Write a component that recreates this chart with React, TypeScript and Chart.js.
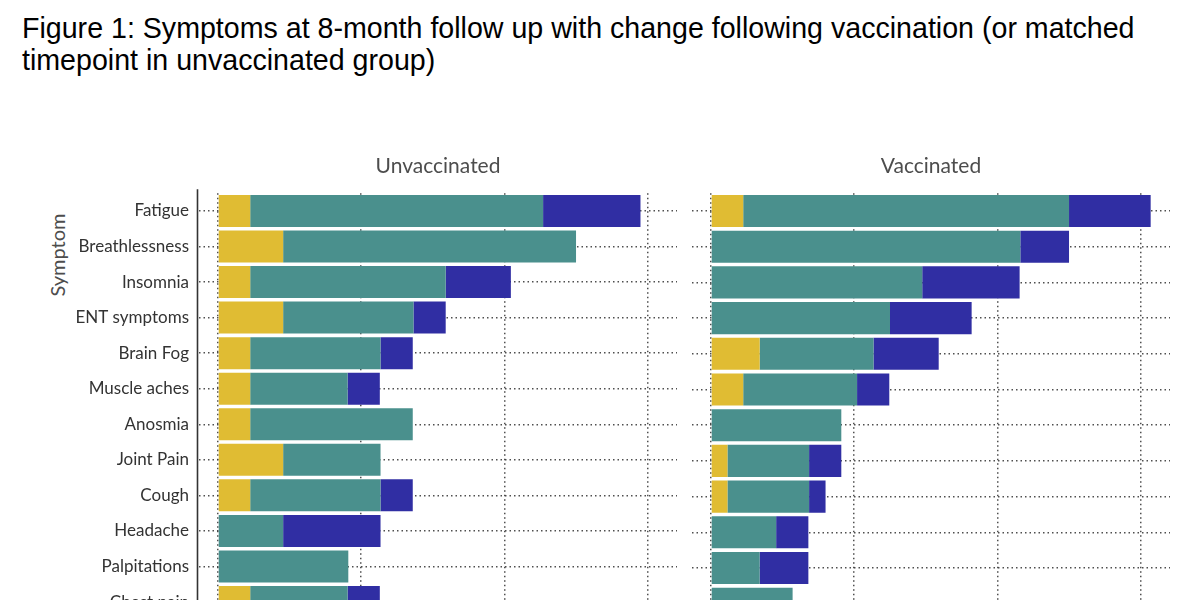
import React, { useEffect, useRef } from "react";
import { Chart, registerables } from "chart.js";

Chart.register(...registerables);

const titleLines = [
  "Figure 1: Symptoms at 8-month follow up with change following vaccination (or matched",
  "timepoint in unvaccinated group)",
];
const panelTitles = ["Unvaccinated", "Vaccinated"];
const yAxisTitle = "Symptom";

const symptoms = [
  "Fatigue",
  "Breathlessness",
  "Insomnia",
  "ENT symptoms",
  "Brain Fog",
  "Muscle aches",
  "Anosmia",
  "Joint Pain",
  "Cough",
  "Headache",
  "Palpitations",
  "Chest pain",
];

const seriesLabels = ["Worse", "Unchanged", "Improved"];
const seriesColors = ["#E0BC33", "#4A908D", "#302EA3"];

// percentages of patients (unvaccinated)
const unvacWorse = [4.5, 9.1, 4.5, 9.1, 4.5, 4.5, 4.5, 9.1, 4.5, 0, 0, 4.5];
const unvacSame = [40.9, 40.9, 27.3, 18.2, 18.2, 13.6, 22.7, 13.6, 18.2, 9.1, 18.2, 13.6];
const unvacBetter = [13.6, 0, 9.1, 4.5, 4.5, 4.5, 0, 0, 4.5, 13.6, 0, 4.5];

// percentages of patients (vaccinated)
const vacWorse = [4.5, 0, 0, 0, 6.8, 4.5, 0, 2.3, 2.3, 0, 0, 0];
const vacSame = [45.5, 43.2, 29.5, 25.0, 15.9, 15.9, 18.2, 11.4, 11.4, 9.1, 6.8, 11.4];
const vacBetter = [11.4, 6.8, 13.6, 11.4, 9.1, 4.5, 0, 4.5, 2.3, 4.5, 6.8, 0];

const xTicks = [0, 20, 40, 60];
const xMin = -2.65;
const xMax = 64.1;

const FONT = "Lato, 'Noto Sans', sans-serif";
const gridColor = "rgba(60,60,60,0.9)";
const DOTS = [1.5, 3];

const axisLinePlugin = {
  id: "axisLine",
  afterDatasetsDraw: (chart: any, _args: any, opts: any) => {
    if (!opts || !opts.show) return;
    const { ctx, chartArea } = chart;
    ctx.save();
    ctx.strokeStyle = "#333333";
    ctx.lineWidth = 1.6;
    ctx.setLineDash([]);
    ctx.beginPath();
    ctx.moveTo(chartArea.left - 1.5, chartArea.top - 4);
    ctx.lineTo(chartArea.left - 1.5, chartArea.bottom);
    ctx.stroke();
    ctx.restore();
  },
};

function makeConfig(
  title: string,
  series: number[][],
  showLabels: boolean,
  yWidth: number,
  padRight: number
): any {
  return {
    type: "bar",
    data: {
      labels: symptoms,
      datasets: series.map((vals, i) => ({
        label: seriesLabels[i],
        data: vals,
        backgroundColor: seriesColors[i],
        borderWidth: 0,
        barPercentage: 0.9,
        categoryPercentage: 1.0,
      })),
    },
    options: {
      indexAxis: "y",
      animation: false,
      responsive: false,
      maintainAspectRatio: false,
      layout: { padding: { left: 0, right: padRight, top: 0, bottom: 18.45 } },
      plugins: {
        legend: { display: false },
        tooltip: { enabled: false },
        axisLine: { show: showLabels },
        title: {
          display: true,
          text: title,
          fullSize: false,
          color: "#4d4d4d",
          font: { family: FONT, size: 21, weight: "normal" },
          padding: { top: 13.4, bottom: 14.55 },
        },
      },
      scales: {
        x: {
          type: "linear",
          stacked: true,
          min: xMin,
          max: xMax,
          bounds: "data",
          afterBuildTicks: (s: any) => {
            s.ticks = xTicks.map((v) => ({ value: v }));
          },
          afterFit: (s: any) => {
            s.height = 0;
          },
          ticks: { display: false },
          border: { display: false, dash: DOTS },
          grid: {
            display: true,
            drawTicks: false,
            color: gridColor,
            lineWidth: 1.5,
          },
        },
        y: {
          stacked: true,
          afterFit: (s: any) => {
            s.width = yWidth;
          },
          ticks: {
            display: showLabels,
            color: "#333333",
            padding: 10,
            font: { family: FONT, size: 17 },
          },
          border: {
            display: false,
            dash: DOTS,
          },
          grid: {
            display: true,
            offset: false,
            drawTicks: false,
            color: gridColor,
            lineWidth: 1.5,
          },
        },
      },
    },
    plugins: [axisLinePlugin],
  };
}

function Panel(props: {
  left: number;
  width: number;
  title: string;
  series: number[][];
  showLabels: boolean;
  yWidth: number;
  padRight: number;
}) {
  const ref = useRef<HTMLCanvasElement | null>(null);
  useEffect(() => {
    if (!ref.current) return;
    const cfg = makeConfig(props.title, props.series, props.showLabels, props.yWidth, props.padRight);
    const chart = new Chart(ref.current, cfg);
    return () => chart.destroy();
  }, []);
  return (
    <canvas
      ref={ref}
      width={props.width}
      height={500}
      style={{ position: "absolute", left: props.left, top: 140, width: props.width, height: 500 }}
    />
  );
}

export default function App() {
  return (
    <div
      style={{
        position: "absolute",
        left: 0,
        top: 0,
        width: 1200,
        height: 600,
        overflow: "hidden",
        background: "#ffffff",
      }}
    >
      <div
        style={{
          position: "absolute",
          left: 22,
          top: 12,
          fontFamily: "'Liberation Sans', Arial, sans-serif",
          fontSize: 28.6,
          lineHeight: "32px",
          color: "#000",
          whiteSpace: "nowrap",
        }}
      >
        {titleLines.map((l, i) => (
          <div key={i}>{l}</div>
        ))}
      </div>
      <div
        style={{
          position: "absolute",
          left: 57,
          top: 255,
          transform: "translate(-50%, -50%) rotate(-90deg)",
          fontFamily: FONT,
          fontSize: 20,
          color: "#4d4d4d",
          whiteSpace: "nowrap",
        }}
      >
        {yAxisTitle}
      </div>
      <Panel
        left={0}
        width={690}
        title={panelTitles[0]}
        series={[unvacWorse, unvacSame, unvacBetter]}
        showLabels={true}
        yWidth={199}
        padRight={13}
      />
      <Panel
        left={690}
        width={510}
        title={panelTitles[1]}
        series={[vacWorse, vacSame, vacBetter]}
        showLabels={false}
        yWidth={2}
        padRight={30}
      />
    </div>
  );
}
